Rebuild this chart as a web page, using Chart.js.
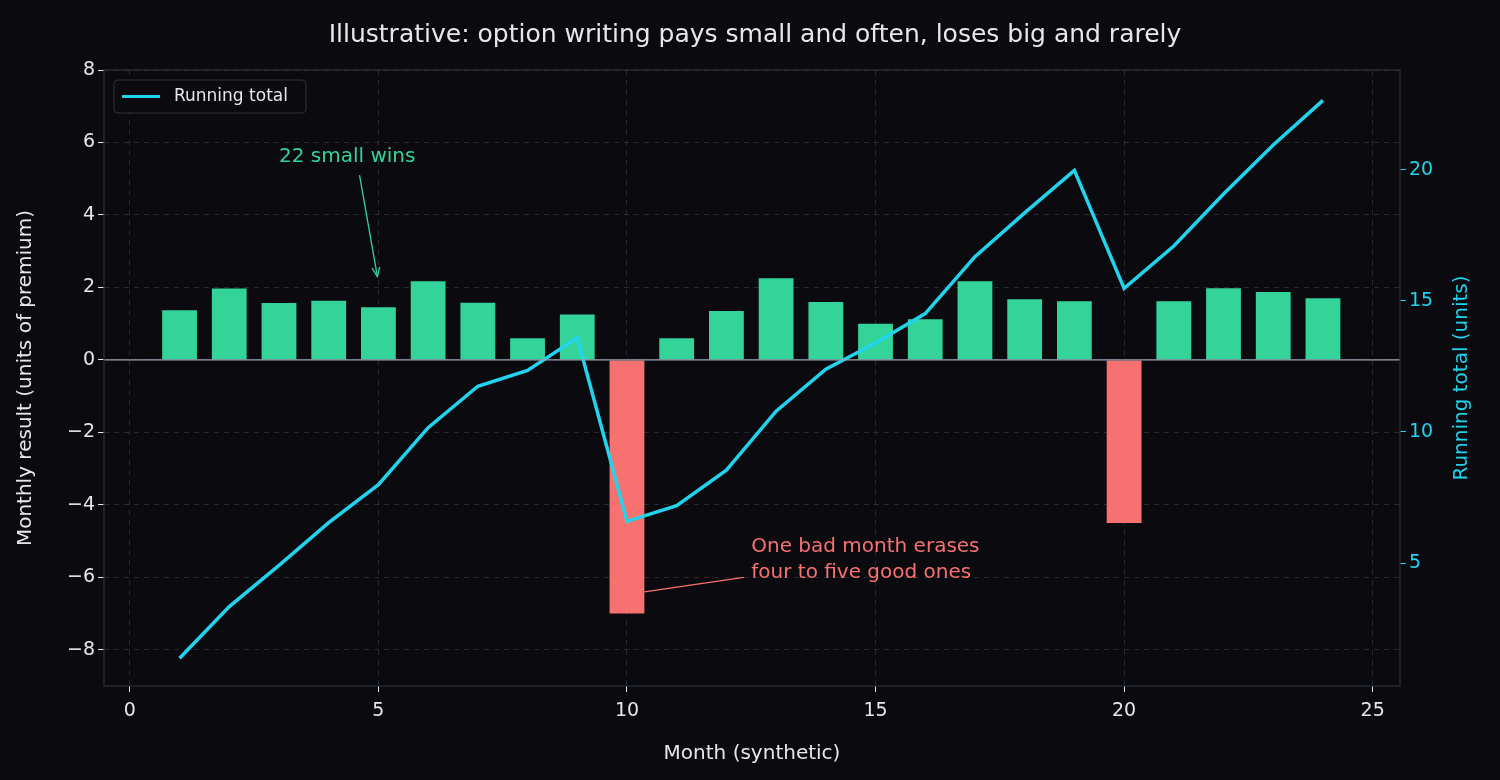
<!DOCTYPE html>
<html>
<head>
<meta charset="utf-8">
<script src="https://cdn.jsdelivr.net/npm/chart.js@4/dist/chart.umd.min.js"></script>
<style>
  html, body { margin: 0; padding: 0; background: #0b0b0f; }
  #wrap { width: 1500px; height: 780px; }
</style>
</head>
<body>
<div id="wrap"><canvas id="myChart" width="1500" height="780"></canvas></div>
<script>
const months = [1, 2, 3, 4, 5, 6, 7, 8, 9, 10, 11, 12, 13, 14, 15, 16, 17, 18, 19, 20, 21, 22, 23, 24];
const monthly = [1.37, 1.97, 1.57, 1.63, 1.45, 2.17, 1.58, 0.6, 1.25, -7.0, 0.6, 1.35,
                 2.25, 1.6, 1.0, 1.12, 2.17, 1.67, 1.62, -4.5, 1.62, 1.98, 1.87, 1.7];
const runningTotal = [1.37, 3.34, 4.91, 6.54, 7.99, 10.16, 11.74, 12.34, 13.59, 6.59, 7.19, 8.54,
                      10.79, 12.39, 13.39, 14.51, 16.68, 18.35, 19.97, 15.47, 17.09, 19.07, 20.94, 22.64];
const xTicks = [0, 5, 10, 15, 20, 25];
const yTicks = [-8, -6, -4, -2, 0, 2, 4, 6, 8];
const y2Ticks = [5, 10, 15, 20];

const GREEN = "#34d399";
const RED = "#f87171";
const CYAN = "#22d3ee";
const TEXT = "#e5e7eb";
const GRID = "rgba(90,100,115,0.35)";
const FONT = "'DejaVu Sans', sans-serif";

// annotations + legend + plot frame
const extras = {
  id: "extras",
  afterDatasetsDraw(chart) {
    const { ctx, chartArea: a, scales } = chart;
    const x = scales.x, y = scales.y;
    ctx.save();
    // zero line
    ctx.strokeStyle = "#9aa3b2";
    ctx.lineWidth = 1.2;
    ctx.beginPath();
    ctx.moveTo(a.left, y.getPixelForValue(0));
    ctx.lineTo(a.right, y.getPixelForValue(0));
    ctx.stroke();
    // frame
    ctx.strokeStyle = "#2a323c";
    ctx.lineWidth = 1.2;
    ctx.strokeRect(a.left, a.top, a.right - a.left, a.bottom - a.top);

    ctx.font = "20px " + FONT;
    ctx.textBaseline = "middle";
    // small wins
    ctx.fillStyle = GREEN;
    ctx.textAlign = "left";
    ctx.fillText("22 small wins", x.getPixelForValue(3.0), y.getPixelForValue(5.6));
    const x1 = x.getPixelForValue(4.62), y1 = y.getPixelForValue(5.1);
    const x2 = x.getPixelForValue(4.98), y2 = y.getPixelForValue(2.3);
    ctx.strokeStyle = GREEN;
    ctx.lineWidth = 1.3;
    ctx.beginPath(); ctx.moveTo(x1, y1); ctx.lineTo(x2, y2); ctx.stroke();
    const ang = Math.atan2(y2 - y1, x2 - x1);
    ctx.beginPath();
    ctx.moveTo(x2 - 10 * Math.cos(ang - 0.4), y2 - 10 * Math.sin(ang - 0.4));
    ctx.lineTo(x2, y2);
    ctx.lineTo(x2 - 10 * Math.cos(ang + 0.4), y2 - 10 * Math.sin(ang + 0.4));
    ctx.stroke();
    // bad month
    ctx.fillStyle = RED;
    ctx.fillText("One bad month erases", x.getPixelForValue(12.5), y.getPixelForValue(-5.15));
    ctx.fillText("four to five good ones", x.getPixelForValue(12.5), y.getPixelForValue(-5.87));
    ctx.strokeStyle = RED;
    ctx.beginPath();
    ctx.moveTo(x.getPixelForValue(12.35), y.getPixelForValue(-6.0));
    ctx.lineTo(x.getPixelForValue(10.35), y.getPixelForValue(-6.4));
    ctx.stroke();

    // right axis title, reading bottom to top
    ctx.save();
    ctx.translate(1462, (a.top + a.bottom) / 2);
    ctx.rotate(-Math.PI / 2);
    ctx.textAlign = "center";
    ctx.fillStyle = CYAN;
    ctx.fillText("Running total (units)", 0, 0);
    ctx.restore();

    // legend
    const lx = a.left + 10, ly = a.top + 10;
    ctx.fillStyle = "#0b0b0f";
    ctx.strokeStyle = "#2a323c";
    ctx.lineWidth = 1;
    ctx.beginPath();
    ctx.roundRect(lx, ly, 192, 33, 4);
    ctx.fill(); ctx.stroke();
    ctx.strokeStyle = CYAN;
    ctx.lineWidth = 3;
    ctx.beginPath(); ctx.moveTo(lx + 8, ly + 16.5); ctx.lineTo(lx + 46, ly + 16.5); ctx.stroke();
    ctx.fillStyle = TEXT;
    ctx.font = "17px " + FONT;
    ctx.textAlign = "left";
    ctx.fillText("Running total", lx + 60, ly + 17);
    ctx.restore();
  },
};

const bgPlugin = {
  id: "bg",
  beforeDraw(chart) {
    const ctx = chart.ctx;
    ctx.save();
    ctx.fillStyle = "#0b0b0f";
    ctx.fillRect(0, 0, chart.width, chart.height);
    ctx.restore();
  },
};

const data = {
  datasets: [
    {
      type: "line",
      label: "Running total",
      data: months.map((m, i) => ({ x: m, y: runningTotal[i] })),
      yAxisID: "y2",
      borderColor: CYAN,
      borderWidth: 3.5,
      pointRadius: 0,
      tension: 0,
      order: 0,
    },
    {
      type: "bar",
      label: "Monthly",
      data: months.map((m, i) => ({ x: m, y: monthly[i] })),
      yAxisID: "y",
      backgroundColor: monthly.map((v) => (v < 0 ? RED : GREEN)),
      borderWidth: 0,
      categoryPercentage: 1,
      barPercentage: 0.7,
      order: 1,
    },
  ],
};

const tickFont = { family: FONT, size: 19 };
const titleFont = { family: FONT, size: 20 };

const config = {
  data: data,
  plugins: [bgPlugin, extras],
  options: {
    responsive: false,
    animation: false,
    layout: { padding: { top: 12, right: 0, bottom: 10, left: 10 } },
    plugins: {
      legend: { display: false },
      tooltip: { enabled: false },
      title: {
        display: true,
        text: "Illustrative: option writing pays small and often, loses big and rarely",
        color: TEXT,
        font: { family: FONT, size: 25, weight: "normal" },
        padding: { top: 8, bottom: 20 },
      },
    },
    scales: {
      x: {
        type: "linear",
        offset: false,
        min: -0.52,
        max: 25.55,
        afterBuildTicks: (s) => { s.ticks = xTicks.map((v) => ({ value: v })); },
        ticks: { color: TEXT, font: tickFont, padding: 8 },
        grid: { offset: false, color: GRID, tickColor: TEXT, tickLength: 6 },
        border: { display: false, dash: [5, 5] },
        title: { display: true, text: "Month (synthetic)", color: TEXT, font: titleFont, padding: { top: 2 } },
        afterFit: (s) => { s.height = 84; },
      },
      y: {
        position: "left",
        min: -9,
        max: 8,
        afterBuildTicks: (s) => { s.ticks = yTicks.map((v) => ({ value: v })); },
        ticks: {
          color: TEXT, font: tickFont,
          callback: (v) => (v < 0 ? "\u2212" + Math.abs(v) : v),
        },
        grid: { color: GRID, tickColor: TEXT, tickLength: 6 },
        border: { display: false, dash: [5, 5] },
        title: { display: true, text: "Monthly result (units of premium)", color: TEXT, font: titleFont },
        afterFit: (s) => { s.width = 94; },
      },
      y2: {
        position: "right",
        min: 0.31,
        max: 23.8,
        afterBuildTicks: (s) => { s.ticks = y2Ticks.map((v) => ({ value: v })); },
        ticks: { color: CYAN, font: tickFont },
        grid: { drawOnChartArea: false, tickColor: CYAN, tickLength: 6 },
        border: { display: false },
        title: { display: false },
        afterFit: (s) => { s.width = 100; },
      },
    },
  },
};

const myChart = new Chart(document.getElementById("myChart").getContext("2d"), config);
</script>
</body>
</html>
